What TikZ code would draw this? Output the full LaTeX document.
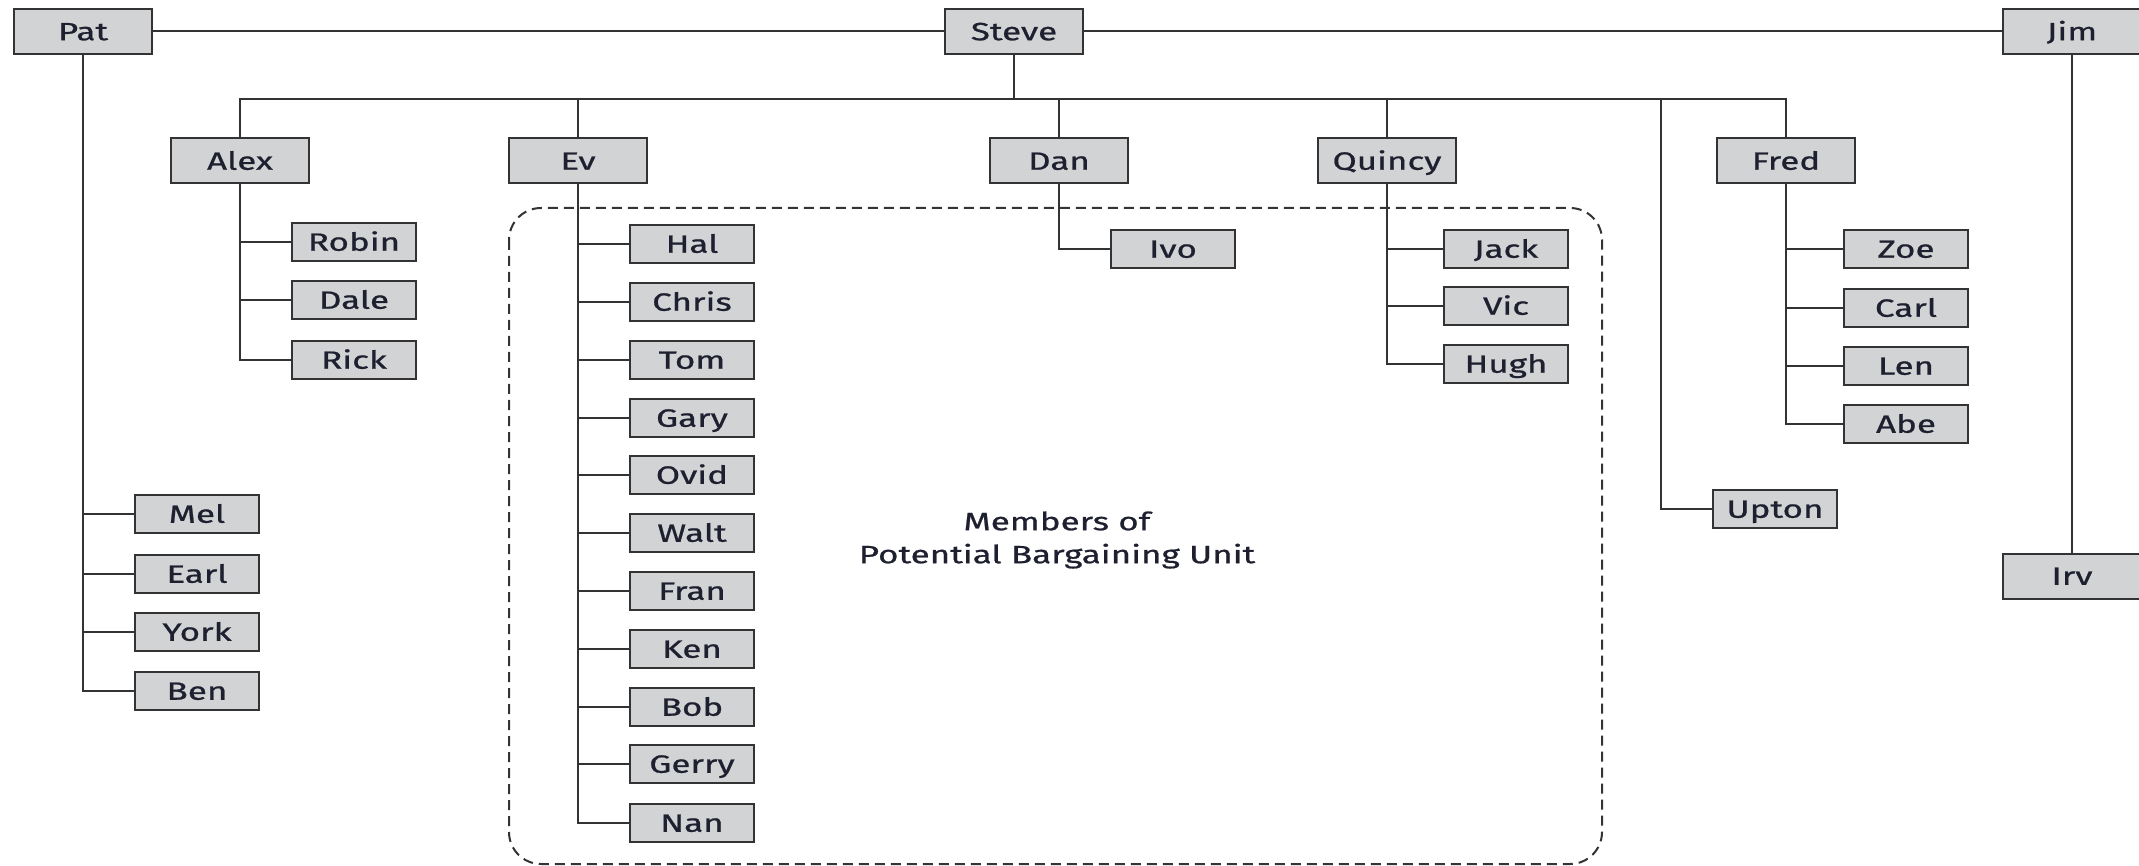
\documentclass[tikz,border=0pt]{standalone}
\usepackage{fontspec}
\setmainfont[FakeStretch=1.4, FakeBold=0.8]{Fira Sans}
\definecolor{linec}{HTML}{333333}
\definecolor{boxc}{HTML}{D2D3D5}
\definecolor{txtc}{HTML}{1E2030}
\begin{document}
\begin{tikzpicture}[x=1pt,y=-1pt,
  conn/.style={draw=linec, line width=2pt},
  person/.style={draw=linec, line width=2pt, fill=boxc, inner sep=0pt, text=txtc,
    font=\fontsize{25}{30}\selectfont, text height=17.5pt, text depth=0pt},
  bigbox/.style={person, minimum width=138pt, minimum height=45pt},
  smallbox/.style={person, minimum width=124pt, minimum height=38pt},
  unitframe/.style={draw=linec, line width=2pt, dash pattern=on 10pt off 6pt, rounded corners=32pt}]
\useasboundingbox (0,0) rectangle (2139,866);

% top row
\node[bigbox] (pat)   at (83,31.5)   {Pat};
\node[bigbox] (steve) at (1014,31.5) {Steve};
\node[bigbox] (jim)   at (2072,31.5) {Jim};

% second level
\node[bigbox] (alex)   at (240,161)  {Alex};
\node[bigbox] (ev)     at (578,161)  {Ev};
\node[bigbox] (dan)    at (1059,161) {Dan};
\node[bigbox] (quincy) at (1387,161) {Quincy};
\node[bigbox] (fred)   at (1786,161) {Fred};
\node[bigbox] (irv)    at (2072,576) {Irv};

% Pat's group
\node[smallbox] (mel)  at (197,514) {Mel};
\node[smallbox] (earl) at (197,574) {Earl};
\node[smallbox] (york) at (197,632) {York};
\node[smallbox] (ben)  at (197,691) {Ben};

% Alex's group
\node[smallbox] (robin) at (354,242) {Robin};
\node[smallbox] (dale)  at (354,300) {Dale};
\node[smallbox] (rick)  at (354,360) {Rick};

% Ev's group
\node[smallbox] (hal)   at (692,244) {Hal};
\node[smallbox] (chris) at (692,302) {Chris};
\node[smallbox] (tom)   at (692,360) {Tom};
\node[smallbox] (gary)  at (692,418) {Gary};
\node[smallbox] (ovid)  at (692,475) {Ovid};
\node[smallbox] (walt)  at (692,533) {Walt};
\node[smallbox] (fran)  at (692,591) {Fran};
\node[smallbox] (ken)   at (692,649) {Ken};
\node[smallbox] (bob)   at (692,707) {Bob};
\node[smallbox] (gerry) at (692,764) {Gerry};
\node[smallbox] (nan)   at (692,823) {Nan};

% Dan's group
\node[smallbox] (ivo) at (1173,249) {Ivo};

% Quincy's group
\node[smallbox] (jack) at (1506,249) {Jack};
\node[smallbox] (vic)  at (1506,306) {Vic};
\node[smallbox] (hugh) at (1506,364) {Hugh};

% Fred's group
\node[smallbox] (zoe)  at (1906,249) {Zoe};
\node[smallbox] (carl) at (1906,308) {Carl};
\node[smallbox] (len)  at (1906,366) {Len};
\node[smallbox] (abe)  at (1906,424) {Abe};

% reporting directly to Steve
\node[smallbox] (upton) at (1775,509) {Upton};

% connectors
\coordinate (bus) at (0,99);
\coordinate (uptonbr) at (1661,99);
\draw[conn] (pat) -- (steve) -- (jim);
\draw[conn] (steve) -- (steve |- bus);
\draw[conn] (alex) -- (alex |- bus) -- (fred |- bus) -- (fred);
\foreach \m in {ev,dan,quincy} \draw[conn] (\m) -- (\m |- bus);
\draw[conn] (uptonbr) |- (upton);
\draw[conn] (jim) -- (irv);
\foreach \c in {mel,earl,york,ben} \draw[conn] (pat) |- (\c);
\foreach \c in {robin,dale,rick} \draw[conn] (alex) |- (\c);
\foreach \c in {hal,chris,tom,gary,ovid,walt,fran,ken,bob,gerry,nan} \draw[conn] (ev) |- (\c);
\draw[conn] (dan) |- (ivo);
\foreach \c in {jack,vic,hugh} \draw[conn] (quincy) |- (\c);
\foreach \c in {zoe,carl,len,abe} \draw[conn] (fred) |- (\c);

% bargaining unit boundary
\draw[unitframe] (509,208) rectangle (1602,864);
\node[text=txtc, align=center, font=\fontsize{25}{33}\selectfont] (unitlabel) at (1057,540)
  {Members of\\Potential Bargaining Unit};
\end{tikzpicture}
\end{document}
